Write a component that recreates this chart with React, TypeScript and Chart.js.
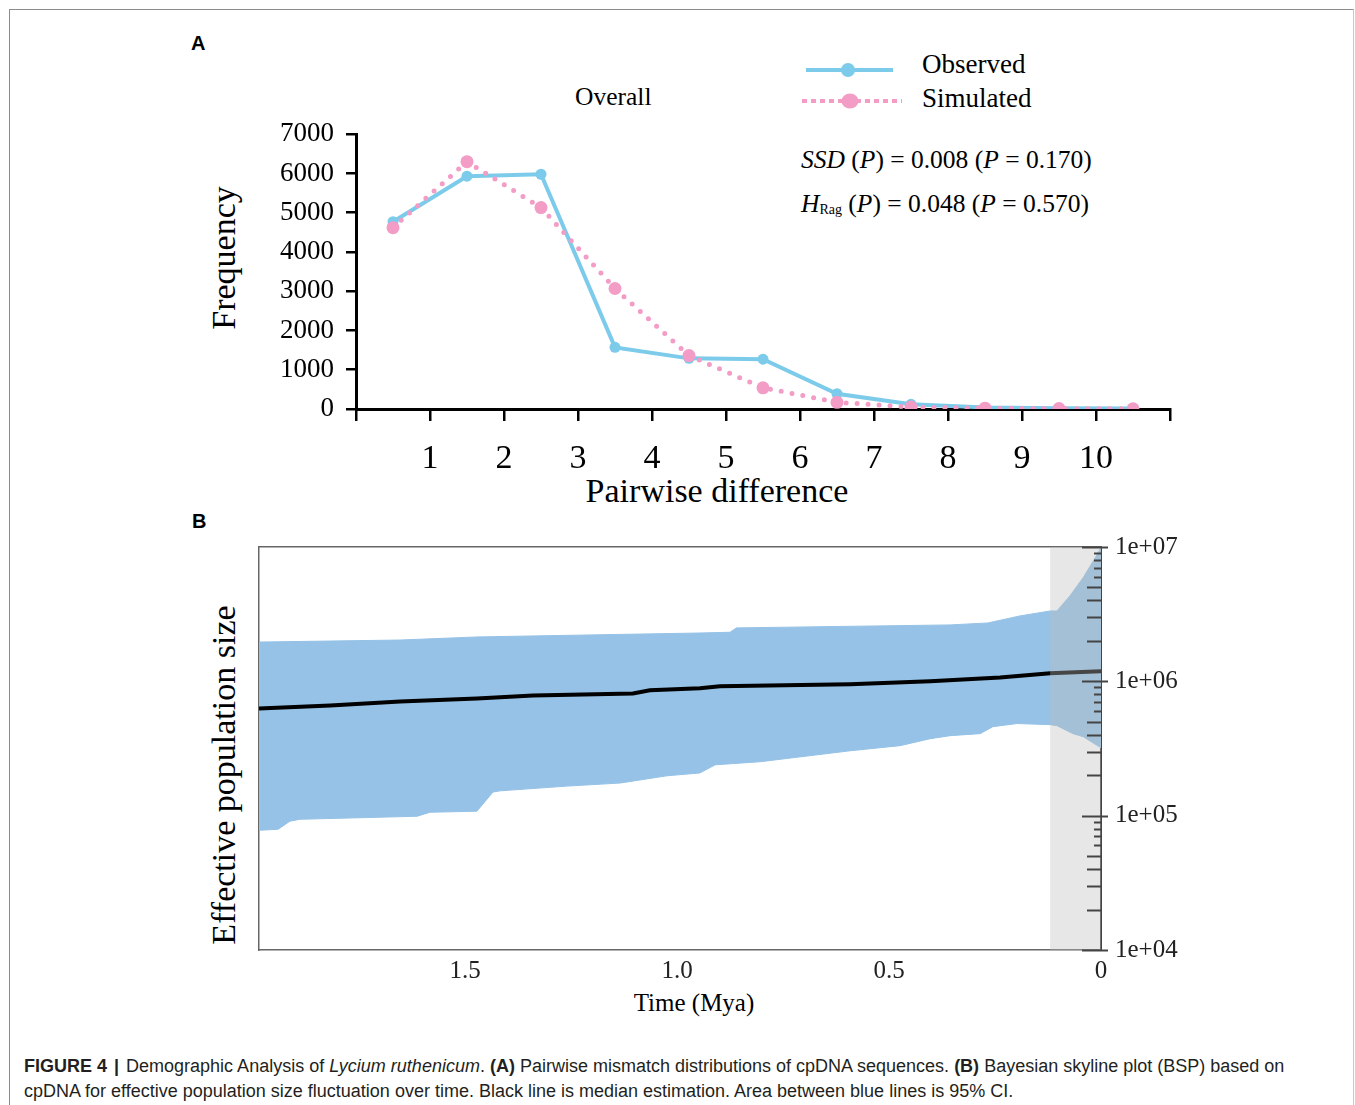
import React, { useEffect, useRef } from 'react';
import { Chart, registerables } from 'chart.js';

Chart.register(...registerables);

const SERIF = "'Liberation Serif', 'Times New Roman', serif";
const SANS = "'Liberation Sans', Arial, sans-serif";

// ---------- Panel A: pairwise mismatch distribution ----------
const A_BIN_CENTERS = [0.5, 1.5, 2.5, 3.5, 4.5, 5.5, 6.5, 7.5, 8.5, 9.5, 10.5];
const A_OBSERVED = [4770, 5930, 5980, 1570, 1290, 1270, 390, 120, 40, 20, 10];
const A_SIMULATED = [4620, 6300, 5130, 3070, 1360, 540, 170, 50, 20, 10, 5];
const A_X_TICKS = [0, 1, 2, 3, 4, 5, 6, 7, 8, 9, 10, 11];
const A_X_LABELS = ['', '1', '2', '3', '4', '5', '6', '7', '8', '9', '10', ''];
const A_Y_TICKS = [0, 1000, 2000, 3000, 4000, 5000, 6000, 7000];
const A_Y_MAX = 7000;
const A_X_MAX = 11;

// ---------- Panel B: Bayesian skyline plot ----------
const B_MEDIAN_T = [0, 0.12, 0.238, 0.403, 0.592, 0.899, 0.946, 1.064, 1.104, 1.34, 1.472, 1.653, 1.818, 1.986];
const B_MEDIAN = [1.19e6, 1.15e6, 1.07e6, 1.0e6, 9.51e5, 9.18e5, 8.87e5, 8.57e5, 8.13e5, 7.86e5, 7.46e5, 7.08e5, 6.6e5, 6.28e5];

const B_UPPER_T = [0, 0.009, 0.042, 0.073, 0.104, 0.12, 0.191, 0.267, 0.356, 0.86, 0.875, 0.946, 1.472, 1.653, 1.986];
const B_UPPER = [9.9e6, 8.8e6, 5.92e6, 4.34e6, 3.34e6, 3.34e6, 3.07e6, 2.72e6, 2.63e6, 2.5e6, 2.32e6, 2.29e6, 2.14e6, 2.03e6, 1.96e6];

const B_LOWER_T = [0, 0.042, 0.066, 0.104, 0.12, 0.198, 0.255, 0.285, 0.356, 0.403, 0.474, 0.592, 0.804, 0.91, 0.946, 1.024, 1.134, 1.259, 1.417, 1.434, 1.472, 1.583, 1.613, 1.889, 1.913, 1.941, 1.986];
const B_LOWER = [3.2e5, 3.87e5, 4.08e5, 4.68e5, 4.76e5, 4.85e5, 4.6e5, 4.08e5, 3.94e5, 3.74e5, 3.32e5, 3.04e5, 2.52e5, 2.39e5, 2.08e5, 1.98e5, 1.75e5, 1.66e5, 1.53e5, 1.5e5, 1.08e5, 1.06e5, 9.9e4, 9.4e4, 9.1e4, 7.92e4, 7.78e4];

const B_T_MAX = 1.986;
const B_GRAY_BAND = [0, 0.12];
const B_X_TICKS = [0, 0.5, 1.0, 1.5];
const B_X_LABELS = ['0', '0.5', '1.0', '1.5'];
const B_Y_MAJOR = [1e4, 1e5, 1e6, 1e7];
const B_Y_LABELS = ['1e+04', '1e+05', '1e+06', '1e+07'];
const B_Y_MINOR_MULT = [2, 3, 4, 5, 6, 7, 8, 9];

const BLUE_A = '#7dcbea';
const PINK_A = '#f29cc6';
const BAND_B = '#95c2e6';

const toXY = (xs: number[], ys: number[]) => xs.map((x, i) => ({ x, y: ys[i] }));

function chartAConfig(): any {
  return {
    type: 'line',
    data: {
      datasets: [
        {
          label: 'Observed',
          data: toXY(A_BIN_CENTERS, A_OBSERVED),
          borderColor: BLUE_A,
          backgroundColor: BLUE_A,
          pointBackgroundColor: BLUE_A,
          borderWidth: 4,
          pointRadius: 5.5,
          pointBorderWidth: 0,
          fill: false,
          tension: 0,
          order: 2,
        },
        {
          label: 'Simulated',
          data: toXY(A_BIN_CENTERS, A_SIMULATED),
          borderColor: PINK_A,
          backgroundColor: PINK_A,
          pointBackgroundColor: PINK_A,
          borderWidth: 5,
          borderDash: [0, 11],
          borderCapStyle: 'round',
          pointRadius: 6.5,
          pointBorderWidth: 0,
          fill: false,
          tension: 0,
          order: 1,
        },
      ],
    },
    options: {
      animation: false,
      responsive: false,
      events: [],
      layout: { padding: { top: 0, right: 30, left: 0, bottom: 0 } },
      plugins: { legend: { display: false }, tooltip: { enabled: false } },
      scales: {
        x: {
          type: 'linear',
          min: 0,
          max: A_X_MAX,
          afterBuildTicks: (s: any) => {
            s.ticks = A_X_TICKS.map((v) => ({ value: v }));
          },
          afterFit: (s: any) => {
            s.height = 91;
          },
          ticks: {
            autoSkip: false,
            maxRotation: 0,
            padding: 18,
            color: '#000',
            font: { family: SERIF, size: 34 },
            callback: (v: number) => A_X_LABELS[A_X_TICKS.indexOf(v)] ?? '',
          },
          grid: { drawOnChartArea: false, drawTicks: true, tickLength: 12, color: '#000', lineWidth: 2.5 },
          border: { color: '#000', width: 3 },
        },
        y: {
          type: 'linear',
          min: 0,
          max: A_Y_MAX,
          afterBuildTicks: (s: any) => {
            s.ticks = A_Y_TICKS.map((v) => ({ value: v }));
          },
          afterFit: (s: any) => {
            s.width = 106;
          },
          ticks: {
            padding: 12,
            color: '#000',
            font: { family: SERIF, size: 27 },
            callback: (v: number) => String(v),
          },
          grid: { drawOnChartArea: false, drawTicks: true, tickLength: 10, color: '#000', lineWidth: 2.5 },
          border: { color: '#000', width: 3 },
        },
      },
    },
  };
}

const inwardTicksPlugin = {
  id: 'inwardTicks',
  afterDraw(chart: any) {
    const s = chart.scales.y;
    const ctx = chart.ctx;
    ctx.save();
    ctx.strokeStyle = '#444';
    ctx.lineWidth = 2;
    s.ticks.forEach((t: any) => {
      const py = Math.round(s.getPixelForValue(t.value)) + 0.5;
      const x0 = s.left;
      const major = B_Y_MAJOR.includes(t.value);
      let inward = 7;
      let outward = 0;
      if (major) {
        inward = 19;
        outward = 7;
      } else if (t.mult <= 5) {
        inward = 14;
      }
      ctx.beginPath();
      ctx.moveTo(x0 - inward, py);
      ctx.lineTo(x0 + outward, py);
      ctx.stroke();
    });
    ctx.restore();
  },
};

function chartBConfig(): any {
  return {
    type: 'line',
    data: {
      datasets: [
        {
          label: 'Upper 95% HPD',
          data: toXY(B_UPPER_T, B_UPPER),
          borderColor: BAND_B,
          backgroundColor: BAND_B,
          borderWidth: 1,
          pointRadius: 0,
          fill: '+1',
          tension: 0,
          xAxisID: 'x',
          yAxisID: 'y',
          order: 2,
        },
        {
          label: 'Lower 95% HPD',
          data: toXY(B_LOWER_T, B_LOWER),
          borderColor: BAND_B,
          backgroundColor: BAND_B,
          borderWidth: 1,
          pointRadius: 0,
          fill: false,
          tension: 0,
          xAxisID: 'x',
          yAxisID: 'y',
          order: 2,
        },
        {
          label: 'Median',
          data: toXY(B_MEDIAN_T, B_MEDIAN),
          borderColor: '#000',
          borderWidth: 4,
          pointRadius: 0,
          fill: false,
          tension: 0,
          xAxisID: 'x',
          yAxisID: 'y',
          order: 1,
        },
        {
          label: 'Band',
          data: B_GRAY_BAND.map((t) => ({ x: t, y: B_Y_MAJOR[B_Y_MAJOR.length - 1] })),
          borderColor: 'rgba(0,0,0,0)',
          backgroundColor: 'rgba(189,189,189,0.37)',
          borderWidth: 0,
          pointRadius: 0,
          fill: 'start',
          tension: 0,
          xAxisID: 'x',
          yAxisID: 'y',
          order: 0,
        },
      ],
    },
    options: {
      animation: false,
      responsive: false,
      events: [],
      layout: { padding: { top: 0, right: 0, left: 69, bottom: 0 } },
      plugins: { legend: { display: false }, tooltip: { enabled: false } },
      scales: {
        x: {
          type: 'linear',
          position: 'bottom',
          reverse: true,
          min: 0,
          max: B_T_MAX,
          afterBuildTicks: (s: any) => {
            s.ticks = B_X_TICKS.map((v) => ({ value: v }));
          },
          afterFit: (s: any) => {
            s.height = 80;
          },
          ticks: {
            autoSkip: false,
            maxRotation: 0,
            padding: 6,
            color: '#222',
            font: { family: SERIF, size: 25 },
            callback: (v: number) => B_X_LABELS[B_X_TICKS.indexOf(v)] ?? '',
          },
          grid: { display: false, drawTicks: false },
          border: { display: true, color: '#666', width: 1.5 },
        },
        y: {
          type: 'logarithmic',
          position: 'right',
          min: B_Y_MAJOR[0],
          max: B_Y_MAJOR[B_Y_MAJOR.length - 1],
          z: 1,
          afterBuildTicks: (s: any) => {
            const ticks: any[] = [];
            B_Y_MAJOR.forEach((m, i) => {
              ticks.push({ value: m, major: true, mult: 1 });
              if (i < B_Y_MAJOR.length - 1) {
                B_Y_MINOR_MULT.forEach((k) => ticks.push({ value: m * k, major: false, mult: k }));
              }
            });
            s.ticks = ticks;
          },
          afterFit: (s: any) => {
            s.width = 99;
          },
          ticks: {
            autoSkip: false,
            padding: 14,
            color: '#222',
            font: { family: SERIF, size: 25 },
            callback: (v: number) => {
              const i = B_Y_MAJOR.indexOf(v);
              return i >= 0 ? B_Y_LABELS[i] : '';
            },
          },
          grid: { display: false, drawTicks: false },
          border: { display: true, color: '#444', width: 2 },
        },
        xTop: {
          type: 'linear',
          position: 'top',
          display: true,
          afterFit: (s: any) => {
            s.height = 0;
          },
          ticks: { display: false },
          grid: { display: false, drawTicks: false },
          border: { display: true, color: '#666', width: 1.5 },
        },
        yLeft: {
          type: 'linear',
          position: 'left',
          display: true,
          afterFit: (s: any) => {
            s.width = 0;
          },
          ticks: { display: false },
          grid: { display: false, drawTicks: false },
          border: { display: true, color: '#666', width: 1.5 },
        },
      },
    },
    plugins: [inwardTicksPlugin],
  };
}

function ChartCanvas(props: { left: number; top: number; width: number; height: number; config: () => any }) {
  const ref = useRef<HTMLCanvasElement>(null);
  useEffect(() => {
    const chart = new Chart(ref.current as HTMLCanvasElement, props.config());
    return () => chart.destroy();
  }, []);
  return (
    <canvas
      ref={ref}
      width={props.width}
      height={props.height}
      style={{ position: 'absolute', left: props.left, top: props.top, width: props.width, height: props.height }}
    />
  );
}

// text placed by baseline
function Txt(props: {
  x: number;
  base: number;
  size: number;
  family?: string;
  align?: 'left' | 'center';
  style?: React.CSSProperties;
  children: React.ReactNode;
}) {
  const fam = props.family || SERIF;
  const top = props.base - 0.84 * props.size;
  const centered = props.align === 'center';
  return (
    <div
      style={{
        position: 'absolute',
        left: centered ? props.x - 400 : props.x,
        width: centered ? 800 : undefined,
        textAlign: centered ? 'center' : 'left',
        top,
        fontFamily: fam,
        fontSize: props.size,
        lineHeight: `${props.size}px`,
        whiteSpace: 'nowrap',
        color: '#000',
        ...props.style,
      }}
    >
      {props.children}
    </div>
  );
}

function VTxt(props: { cx: number; cy: number; size: number; children: React.ReactNode }) {
  return (
    <div
      style={{
        position: 'absolute',
        left: props.cx,
        top: props.cy,
        transform: 'translate(-50%, -50%) rotate(-90deg)',
        fontFamily: SERIF,
        fontSize: props.size,
        lineHeight: `${props.size}px`,
        whiteSpace: 'nowrap',
        color: '#000',
      }}
    >
      {props.children}
    </div>
  );
}

export default function App() {
  return (
    <div style={{ position: 'absolute', left: 0, top: 0, width: 1355, height: 1105, overflow: 'hidden', background: '#fff' }}>
      <div
        style={{
          position: 'absolute',
          left: 9,
          top: 9,
          width: 1345,
          height: 1200,
          boxSizing: 'border-box',
          borderTop: '1px solid #8c8c8c',
          borderLeft: '1px solid #8c8c8c',
          borderRight: '1px solid #c8c8c8',
        }}
      />

      {/* Panel A */}
      <Txt x={191} base={50} size={20} family={SANS} style={{ fontWeight: 'bold' }}>A</Txt>
      <Txt x={575} base={105} size={25.5}>Overall</Txt>
      <svg style={{ position: 'absolute', left: 795, top: 55 }} width={115} height={60}>
        <line x1={11} y1={15} x2={98} y2={15} stroke={BLUE_A} strokeWidth={4} />
        <circle cx={53} cy={15} r={7} fill={BLUE_A} />
        <line x1={7} y1={46} x2={107} y2={46} stroke={PINK_A} strokeWidth={4} strokeDasharray="5 4" />
        <ellipse cx={55} cy={46} rx={8.5} ry={7.5} fill={PINK_A} />
      </svg>
      <Txt x={922} base={73.5} size={27}>Observed</Txt>
      <Txt x={922} base={107.5} size={27}>Simulated</Txt>
      <Txt x={801} base={168} size={25.5}>
        <i>SSD</i> (<i>P</i>) = 0.008 (<i>P</i> = 0.170)
      </Txt>
      <Txt x={801} base={212} size={25.5}>
        <i>H</i>
        <span style={{ fontSize: 14, verticalAlign: '-2px' }}>Rag</span> (<i>P</i>) = 0.048 (<i>P</i> = 0.570)
      </Txt>
      <VTxt cx={224} cy={258} size={34}>Frequency</VTxt>
      <Txt x={717} base={503} size={34} align="center">Pairwise difference</Txt>
      <ChartCanvas left={250} top={106} width={950} height={394} config={chartAConfig} />

      {/* Panel B */}
      <Txt x={192} base={528} size={20} family={SANS} style={{ fontWeight: 'bold' }}>B</Txt>
      <VTxt cx={224} cy={775} size={34}>Effective population size</VTxt>
      <Txt x={694} base={1011} size={25} align="center">Time (Mya)</Txt>
      <ChartCanvas left={190} top={518} width={1010} height={512} config={chartBConfig} />

      {/* Caption */}
      <Txt x={24} base={1072} size={18} family={SANS} style={{ color: '#231f20' }}>
        <b>FIGURE 4</b>
        <span style={{ margin: '0 7px', fontWeight: 'bold' }}>|</span>Demographic Analysis of <i>Lycium ruthenicum</i>.{' '}
        <b>(A)</b> Pairwise mismatch distributions of cpDNA sequences. <b>(B)</b> Bayesian skyline plot (BSP) based on
      </Txt>
      <Txt x={24} base={1097} size={18} family={SANS} style={{ color: '#231f20' }}>
        cpDNA for effective population size fluctuation over time. Black line is median estimation. Area between blue lines
        is 95% CI.
      </Txt>
    </div>
  );
}
